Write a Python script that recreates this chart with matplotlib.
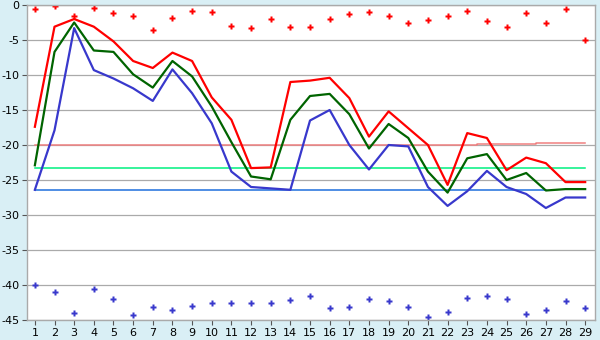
import matplotlib
matplotlib.use("Agg")
import matplotlib.pyplot as plt

plt.rcParams["axes.unicode_minus"] = False

days = list(range(1, 30))

high = [-17.4, -3.1, -2.0, -3.1, -5.2, -8.0, -9.0, -6.8, -8.0, -13.2,
        -16.4, -23.3, -23.2, -11.0, -10.8, -10.4, -13.3, -18.8, -15.2, -17.6,
        -20.0, -25.7, -18.3, -19.0, -23.6, -21.8, -22.6, -25.3, -25.3]
mean = [-22.9, -6.7, -2.5, -6.5, -6.7, -9.9, -11.8, -8.0, -10.2, -14.5,
        -19.6, -24.5, -24.9, -16.4, -13.0, -12.7, -15.6, -20.5, -17.0, -19.0,
        -23.8, -26.8, -21.9, -21.3, -25.0, -24.0, -26.5, -26.3, -26.3]
low = [-26.4, -17.9, -3.3, -9.3, -10.5, -11.9, -13.7, -9.2, -12.6, -16.9,
       -23.8, -26.0, -26.2, -26.4, -16.5, -15.0, -20.0, -23.5, -20.0, -20.2,
       -26.0, -28.7, -26.6, -23.7, -26.0, -27.0, -29.0, -27.5, -27.5]

max_pts = [-0.6, -0.1, -1.6, -0.4, -1.2, -1.6, -3.5, -1.9, -0.9, -1.05,
           -3.0, -3.3, -2.05, -3.2, -3.2, -2.05, -1.3, -1.05, -1.6, -2.6,
           -2.2, -1.6, -0.9, -2.3, -3.2, -1.2, -2.6, -0.6, -5.05]
min_pts = [-40.05, -41.05, -44.05, -40.6, -42.05, -44.3, -43.2, -43.5, -43.05, -42.6,
           -42.6, -42.6, -42.6, -42.2, -41.5, -43.3, -43.15, -42.05, -42.3, -43.15,
           -44.5, -43.9, -41.9, -41.6, -42.05, -44.2, -43.6, -42.3, -43.3]

# long-term averages (slowly changing)
avg_high = [-20.0] * 23 + [-19.86] * 3 + [-19.76] * 3
avg_mean = [-23.33] * 29
avg_low = [-26.45] * 22 + [-26.4] * 5
avg_low_days = days[:27]

bg = "#d9eff5"
fig = plt.figure(figsize=(6, 3.4), dpi=100, facecolor=bg)
ax = fig.add_axes([27 / 600, 20 / 340, 568 / 600, 315 / 340])
ax.set_facecolor("white")

ax.plot(days, avg_high, color="#f08080", lw=1.1, drawstyle="steps-mid")
ax.plot(days, avg_mean, color="#00f080", lw=1.1, drawstyle="steps-mid")
ax.plot(avg_low_days, avg_low, color="#1e6fdc", lw=1.1, drawstyle="steps-mid")

ax.plot(days, high, color="#ff0000", lw=1.6)
ax.plot(days, mean, color="#006400", lw=1.6)
ax.plot(days, low, color="#3838cc", lw=1.6)

ax.plot(days, max_pts, ls="none", marker="P", ms=4.8, color="#ff0000", mec="none")
ax.plot(days, min_pts, ls="none", marker="P", ms=4.8, color="#3838cc", mec="none")

ax.set_xlim(0.6, 29.5)
ax.set_ylim(-45, 0)
ax.set_xticks(days)
ax.set_yticks(range(-45, 1, 5))
ax.grid(axis="y", color="#aaaaaa", lw=0.9)
ax.set_axisbelow(True)
for s in ax.spines.values():
    s.set_color("#aaaaaa")
    s.set_linewidth(1)
ax.tick_params(axis="both", labelsize=8, color="#555555", length=3.5, width=0.8, pad=2)

plt.savefig("out.png", dpi=100, facecolor=bg)
